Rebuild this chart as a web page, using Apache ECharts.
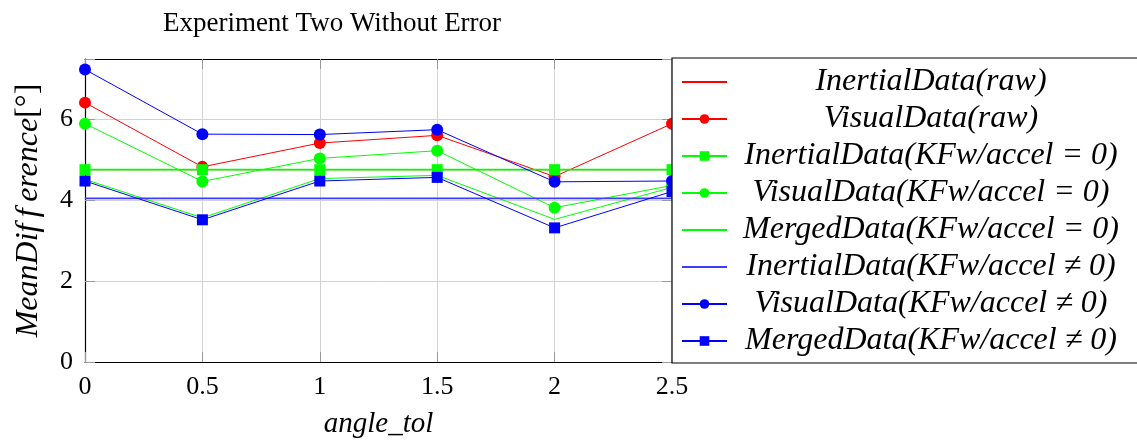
<!DOCTYPE html>
<html>
<head>
<meta charset="utf-8">
<script src="https://cdn.jsdelivr.net/npm/echarts@6/dist/echarts.min.js"></script>
<style>
  html, body { margin: 0; padding: 0; background: #fff; }
  #chart { width: 1137px; height: 441px; }
</style>
</head>
<body>
<div id="chart"></div>
<script>
// angle tolerance values on the x axis
const angleTol = [0, 0.5, 1, 1.5, 2, 2.5];

// mean difference in degrees for each data source
const inertialRaw   = [4.76, 4.76, 4.76, 4.76, 4.76, 4.76];
const visualRaw     = [6.42, 4.83, 5.42, 5.61, 4.59, 5.90];
const inertialKF0   = [4.76, 4.76, 4.76, 4.76, 4.76, 4.76];
const visualKF0     = [5.90, 4.47, 5.04, 5.23, 3.82, 4.37];
const mergedKF0     = [4.52, 3.57, 4.54, 4.62, 3.53, 4.32];
const inertialKFn0  = [4.05, 4.05, 4.05, 4.05, 4.05, 4.05];
const visualKFn0    = [7.24, 5.64, 5.63, 5.75, 4.46, 4.48];
const mergedKFn0    = [4.48, 3.52, 4.48, 4.57, 3.32, 4.22];

const yTicks = [0, 2, 4, 6];

const SERIF = "'Liberation Serif', 'DejaVu Serif', serif";
const RED = '#ff0000', GREEN = '#00ff00', BLUE = '#0000ff';

function pairs(ys) { return angleTol.map((x, i) => [x, ys[i]]); }

function mkSeries(name, ys, color, symbol, size) {
  return {
    name: name,
    type: 'line',
    z: 2,
    data: pairs(ys),
    symbol: symbol || 'none',
    symbolSize: size || 0,
    showSymbol: !!symbol,
    lineStyle: { color: color, width: 1 },
    itemStyle: { color: color },
    emphasis: { disabled: true },
    animation: false
  };
}

const series = [
  mkSeries('InertialData(raw)', inertialRaw, RED),
  mkSeries('VisualData(raw)', visualRaw, RED, 'circle', 12),
  mkSeries('InertialData(KFw/accel = 0)', inertialKF0, GREEN, 'rect', 11),
  mkSeries('VisualData(KFw/accel = 0)', visualKF0, GREEN, 'circle', 12),
  mkSeries('MergedData(KFw/accel = 0)', mergedKF0, GREEN),
  mkSeries('InertialData(KFw/accel \u2260 0)', inertialKFn0, '#3c3cff'),
  mkSeries('VisualData(KFw/accel \u2260 0)', visualKFn0, BLUE, 'circle', 12),
  mkSeries('MergedData(KFw/accel \u2260 0)', mergedKFn0, BLUE, 'rect', 11)
];
series[2].lineStyle.width = 1.8;
series[5].lineStyle.width = 1.6;

// legend entries: plain lines for the series drawn without markers
const legendData = series.map(s => (
  s.showSymbol ? { name: s.name } : { name: s.name, itemStyle: { opacity: 0 } }
));

const tickStyle = { show: true, inside: true, length: 10, lineStyle: { color: '#9a9a9a', width: 1 } };

const option = {
  backgroundColor: '#ffffff',
  animation: false,
  title: {
    text: 'Experiment Two Without Error',
    left: 327,
    textAlign: 'center',
    top: 5,
    textStyle: { fontFamily: SERIF, fontWeight: 'normal', fontSize: 27, color: '#000' }
  },
  grid: { left: 85, right: 465, top: 59, bottom: 79, containLabel: false, outerBoundsMode: 'none' },
  // white legend panel laid over the right end of the plot
  graphic: {
    elements: [{
      type: 'rect',
      z: 100,
      silent: true,
      shape: { x: 672, y: 58, width: 520, height: 305 },
      style: { fill: '#ffffff', stroke: '#000000', lineWidth: 1.2 }
    }]
  },
  legend: {
    z: 200,
    orient: 'vertical',
    left: 672,
    top: 58,
    padding: [8, 9, 6, 9],
    itemGap: 5,
    itemWidth: 45,
    itemHeight: 12,
    selectedMode: false,
    formatter: '{t|{name}}',
    textStyle: {
      rich: {
        t: {
          width: 398,
          align: 'center',
          fontSize: 32,
          fontStyle: 'italic',
          fontFamily: SERIF,
          color: '#000'
        }
      }
    },
    data: legendData
  },
  xAxis: [
    {
      type: 'value',
      min: 0, max: 2.5, interval: 0.5,
      position: 'bottom',
      name: 'angle_tol',
      nameLocation: 'middle',
      nameGap: 48,
      nameTextStyle: { fontFamily: SERIF, fontStyle: 'italic', fontSize: 29, color: '#000' },
      axisLine: { show: true, onZero: false, lineStyle: { color: '#000', width: 1.2 } },
      axisTick: tickStyle,
      axisLabel: { fontFamily: SERIF, fontSize: 26, color: '#000', margin: 12 },
      splitLine: { show: true, lineStyle: { color: '#d2d2d2', width: 1 } }
    },
    {
      type: 'value',
      min: 0, max: 2.5, interval: 0.5,
      position: 'top',
      axisLine: { show: true, onZero: false, lineStyle: { color: '#000', width: 1.2 } },
      axisTick: tickStyle,
      axisLabel: { show: false },
      splitLine: { show: false }
    }
  ],
  yAxis: [
    {
      type: 'value',
      min: 0, max: 7.5, interval: 2,
      position: 'left',
      name: '{i|MeanDif\u2009f\u2009erence}{n|[°]}',
      nameLocation: 'middle',
      nameGap: 40,
      nameTextStyle: {
        rich: {
          i: { fontFamily: SERIF, fontStyle: 'italic', fontSize: 32, color: '#000' },
          n: { fontFamily: SERIF, fontSize: 32, color: '#000' }
        }
      },
      axisLine: { show: true, onZero: false, lineStyle: { color: '#000', width: 1.2 } },
      axisTick: tickStyle,
      axisLabel: {
        fontFamily: SERIF, fontSize: 26, color: '#000', margin: 12,
        formatter: v => (yTicks.indexOf(v) >= 0 ? String(v) : '')
      },
      splitLine: {
        show: true,
        lineStyle: { color: '#d2d2d2', width: 1 }
      }
    },
    {
      type: 'value',
      min: 0, max: 7.5, interval: 2,
      position: 'right',
      axisLine: { show: true, onZero: false, lineStyle: { color: '#000', width: 1.2 } },
      axisTick: tickStyle,
      axisLabel: { show: false },
      splitLine: { show: false }
    }
  ],
  series: series
};

const chart = echarts.init(document.getElementById('chart'), null, { renderer: 'canvas' });
chart.setOption(option);
</script>
</body>
</html>
